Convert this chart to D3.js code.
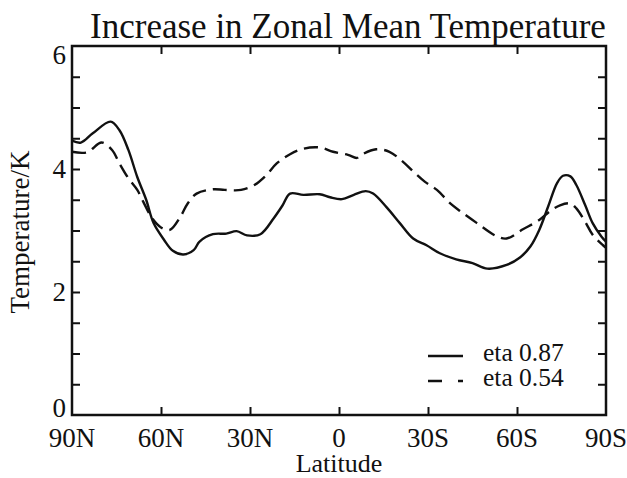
<!DOCTYPE html>
<html lang="en">
<head>
<meta charset="UTF-8">
<title>Increase in Zonal Mean Temperature</title>
<style>
  body { margin: 0; background: #fff; }
  text { font-family: "Liberation Serif", "Times New Roman", serif; fill: #111; }
</style>
</head>
<body>
<svg id="chart"></svg>
<script src="https://cdn.jsdelivr.net/npm/d3@7"></script>
<script>
// data: latitude (N positive, S negative) and temperature increase (K)
var etaHighLat  = [90, 87, 83, 77, 74, 71, 68, 65, 62.5, 59, 56, 52.5, 49, 47, 42.5, 38, 34.5, 31, 26.5, 22, 19, 16.5, 12, 6.5, 3, -1, -5, -9, -11.5, -16, -20.5, -25, -29.5, -34, -39.5, -45, -50, -56.5, -61, -64.5, -67.5, -70.5, -73.5, -75.5, -78, -80, -83, -85.5, -88.5, -90];
var etaHighTemp = [4.46, 4.43, 4.58, 4.77, 4.63, 4.31, 3.87, 3.50, 3.12, 2.85, 2.67, 2.61, 2.68, 2.82, 2.94, 2.95, 2.99, 2.92, 2.94, 3.20, 3.41, 3.60, 3.58, 3.59, 3.54, 3.51, 3.58, 3.64, 3.60, 3.38, 3.12, 2.87, 2.76, 2.63, 2.53, 2.47, 2.38, 2.44, 2.56, 2.74, 3.01, 3.39, 3.77, 3.89, 3.88, 3.74, 3.41, 3.12, 2.90, 2.82];

var etaLowLat  = [90, 85, 80, 76.5, 74, 71, 68, 66, 63, 60, 57, 53.5, 51, 48, 42.5, 38.5, 33, 28.5, 24.5, 21, 16.5, 12, 6.5, 2, -3, -6, -7.5, -12.5, -17, -21.5, -25, -29, -33, -37.5, -41, -46.5, -53, -56.5, -62, -67.5, -71, -74.5, -78, -80, -83, -85.5, -89, -90];
var etaLowTemp = [4.28, 4.27, 4.43, 4.31, 4.09, 3.85, 3.66, 3.47, 3.20, 3.05, 3.01, 3.22, 3.44, 3.60, 3.67, 3.66, 3.66, 3.74, 3.90, 4.09, 4.24, 4.33, 4.35, 4.28, 4.23, 4.18, 4.23, 4.32, 4.28, 4.12, 3.96, 3.79, 3.66, 3.44, 3.31, 3.12, 2.91, 2.87, 3.02, 3.17, 3.31, 3.41, 3.44, 3.36, 3.14, 2.93, 2.76, 2.72];

var seriesNames = ["eta 0.87", "eta 0.54"];
var latTicks = [90, 60, 30, 0, -30, -60, -90];
var latLabels = ["90N", "60N", "30N", "0", "30S", "60S", "90S"];
var tempTicks = [0, 2, 4, 6];

var width = 627, height = 478;
var plotL = 72, plotR = 606, plotT = 46, plotB = 415;

var svg = d3.select("#chart")
    .attr("width", width)
    .attr("height", height);

var x = d3.scaleLinear().domain([90, -90]).range([plotL, plotR]);
var y = d3.scaleLinear().domain([0, 6]).range([plotB, plotT]);

// minor ticks every 0.5 K, drawn inward on both sides
var minor = d3.range(0.5, 6, 0.5);

svg.append("g")
    .attr("transform", "translate(" + plotL + ",0)")
    .call(d3.axisRight(y).tickValues(minor).tickSize(8).tickFormat(""))
    .call(function(g) { g.select(".domain").remove(); });

svg.append("g")
    .attr("transform", "translate(" + plotR + ",0)")
    .call(d3.axisLeft(y).tickValues(minor).tickSize(8).tickFormat(""))
    .call(function(g) { g.select(".domain").remove(); });

svg.append("g")
    .attr("transform", "translate(0," + plotT + ")")
    .call(d3.axisBottom(x).tickValues(latTicks.slice(1, -1)).tickSize(8).tickFormat(""))
    .call(function(g) { g.select(".domain").remove(); });

svg.append("g")
    .attr("transform", "translate(0," + plotB + ")")
    .call(d3.axisTop(x).tickValues(latTicks.slice(1, -1)).tickSize(8).tickFormat(""))
    .call(function(g) { g.select(".domain").remove(); });

svg.selectAll(".tick line").attr("stroke", "#111").attr("stroke-width", 2);

// frame
svg.append("rect")
    .attr("x", plotL).attr("y", plotT)
    .attr("width", plotR - plotL).attr("height", plotB - plotT)
    .attr("fill", "none").attr("stroke", "#111").attr("stroke-width", 2.5);

// y labels (end labels nudged inside like in the original)
svg.selectAll(".ylab")
    .data(tempTicks)
    .enter().append("text")
    .attr("x", plotL - 6)
    .attr("y", function(d) { return y(d) + (d === 6 ? 18 : d === 0 ? 2 : 9); })
    .attr("text-anchor", "end")
    .attr("font-size", 27)
    .text(function(d) { return d; });

// x labels
svg.selectAll(".xlab")
    .data(latTicks)
    .enter().append("text")
    .attr("x", function(d) { return x(d); })
    .attr("y", 447)
    .attr("text-anchor", "middle")
    .attr("font-size", 27)
    .text(function(d, i) { return latLabels[i]; });

svg.append("text")
    .attr("x", 348).attr("y", 38)
    .attr("text-anchor", "middle")
    .attr("font-size", 35)
    .text("Increase in Zonal Mean Temperature");

svg.append("text")
    .attr("x", 339).attr("y", 472)
    .attr("text-anchor", "middle")
    .attr("font-size", 26)
    .text("Latitude");

svg.append("text")
    .attr("transform", "translate(29,232) rotate(-90)")
    .attr("text-anchor", "middle")
    .attr("font-size", 27)
    .text("Temperature/K");

// curves
var line = d3.line()
    .x(function(d) { return x(d[0]); })
    .y(function(d) { return y(d[1]); })
    .curve(d3.curveCatmullRom.alpha(0.5));

svg.append("path")
    .datum(d3.zip(etaHighLat, etaHighTemp))
    .attr("d", line)
    .attr("fill", "none").attr("stroke", "#111").attr("stroke-width", 2.4);

svg.append("path")
    .datum(d3.zip(etaLowLat, etaLowTemp))
    .attr("d", line)
    .attr("fill", "none").attr("stroke", "#111").attr("stroke-width", 2.4)
    .attr("stroke-dasharray", "14,7");

// legend
var legend = svg.selectAll(".legend")
    .data(seriesNames)
    .enter().append("g")
    .attr("transform", function(d, i) { return "translate(428," + (356 + i * 25) + ")"; });

legend.append("line")
    .attr("x1", 0).attr("x2", 35)
    .attr("stroke", "#111").attr("stroke-width", 2.4)
    .attr("stroke-dasharray", function(d, i) { return i === 0 ? null : "14,16"; });

legend.append("text")
    .attr("x", 55).attr("y", 5)
    .attr("font-size", 25.5)
    .text(function(d) { return d; });
</script>
</body>
</html>
